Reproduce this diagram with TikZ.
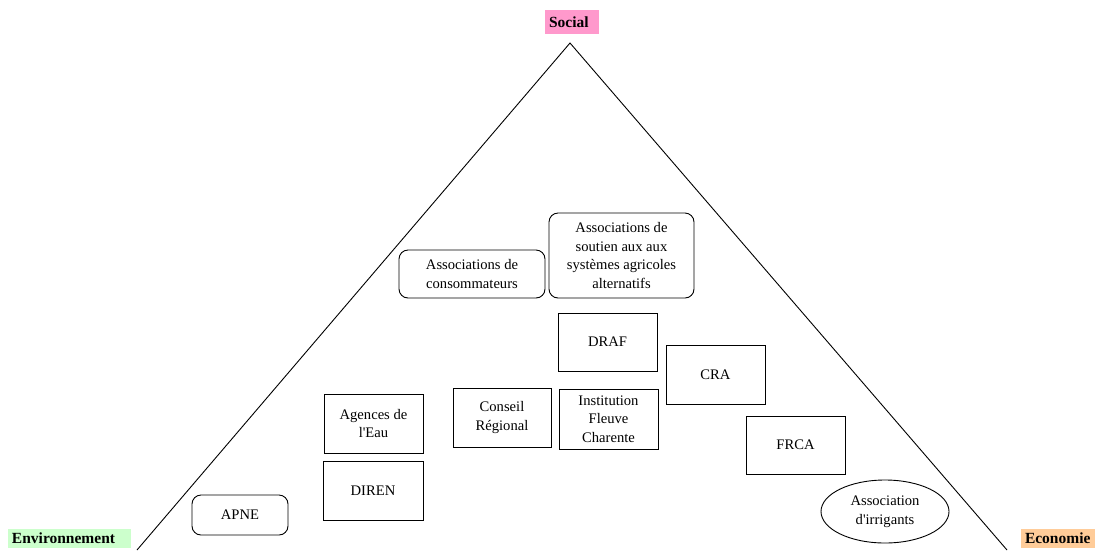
\documentclass[tikz,border=0pt]{standalone}
\usepackage{fontspec}
\setmainfont{Liberation Serif}
\usetikzlibrary{shapes.geometric}

\begin{document}
\begin{tikzpicture}[x=1pt,y=1pt,yscale=-1,xscale=1,
  every node/.style={font=\fontsize{14.6}{18.5}\selectfont,align=center,inner sep=0.75pt},
  actor/.style={draw,line width=0.9pt,minimum width=99,minimum height=59},
  roundactor/.style={actor,rounded corners=9pt},
  ovalactor/.style={draw,line width=0.9pt,ellipse,minimum width=128,minimum height=63},
  pole/.style={font=\fontsize{15.5}{17}\selectfont\bfseries,inner xsep=4pt,inner ysep=0pt,align=left}
  ]
\useasboundingbox (0,0) rectangle (1098,550);

%Triangle
\coordinate (top) at (570,43);
\coordinate (envbase) at (137,550);
\coordinate (ecobase) at (1007,550);
\draw [line width=0.9pt] (envbase) -- (top) -- (ecobase) ;

% Pole labels
\node (social) [pole,fill={rgb,255:red,255;green,153;blue,204},text width=46,minimum height=24] at (572,22) {Social};
\node (environnement) [pole,fill={rgb,255:red,204;green,255;blue,204},text width=115,minimum height=19] at (69.5,538.5) {Environnement};
\node (economie) [pole,fill={rgb,255:red,255;green,204;blue,153},text width=66,minimum height=19] at (1058,538.5) {Economie};

% Actors
\node (apne) [roundactor,minimum width=96,minimum height=40] at (240,515) {APNE};
\node (diren) [actor,minimum width=100] at (373,490.5) {DIREN};
\node (agences) [actor] at (373.5,423.5) {Agences de\\l\textquotesingle Eau};
\node (conseil) [actor,minimum width=98] at (502,417.5) {Conseil\\Régional};
\node (institution) [actor,minimum height=60] at (608.5,419) {Institution\\Fleuve\\Charente};
\node (draf) [actor,minimum height=58] at (607.5,342) {DRAF};
\node (cra) [actor] at (715.5,374.5) {CRA};
\node (frca) [actor,minimum height=58] at (795.5,445) {FRCA};
\node (irrigants) [ovalactor] at (885,511.5) {Association\\d\textquotesingle irrigants};
\node (consommateurs) [roundactor,minimum width=146,minimum height=48] at (472,274) {Associations de\\consommateurs};
\node (soutien) [roundactor,minimum width=145,minimum height=85] at (621.5,255.5) {Associations de\\soutien aux aux\\systèmes agricoles\\alternatifs};

\end{tikzpicture}
\end{document}
